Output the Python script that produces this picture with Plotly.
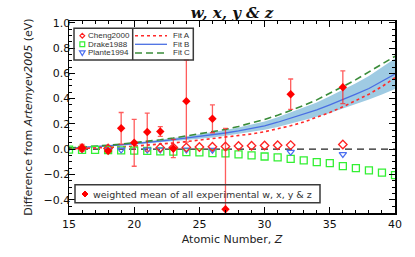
import plotly.graph_objects as go

# ---------------- data ----------------
fit_z = list(range(15, 41))
fit_a = [0.002, 0.005, 0.009, 0.013, 0.018, 0.024, 0.031, 0.039, 0.049, 0.060,
         0.072, 0.083, 0.094, 0.106, 0.120, 0.138, 0.160, 0.185, 0.215, 0.250,
         0.290, 0.335, 0.382, 0.435, 0.495, 0.565]
fit_b = [0.008, 0.013, 0.019, 0.026, 0.034, 0.042, 0.052, 0.063, 0.075, 0.087,
         0.100, 0.112, 0.128, 0.145, 0.163, 0.185, 0.213, 0.245, 0.278, 0.310,
         0.350, 0.390, 0.435, 0.480, 0.535, 0.595]
fit_c = [0.010, 0.016, 0.023, 0.031, 0.040, 0.050, 0.061, 0.074, 0.088, 0.104,
         0.120, 0.137, 0.156, 0.180, 0.207, 0.235, 0.268, 0.305, 0.345, 0.390,
         0.440, 0.495, 0.550, 0.610, 0.672, 0.735]
band_hi = [0.011, 0.017, 0.024, 0.032, 0.041, 0.051, 0.062, 0.075, 0.089, 0.103,
           0.118, 0.133, 0.151, 0.171, 0.193, 0.219, 0.252, 0.290, 0.328, 0.370,
           0.418, 0.468, 0.522, 0.578, 0.645, 0.718]
band_lo = [0.005, 0.009, 0.014, 0.020, 0.027, 0.034, 0.043, 0.052, 0.062, 0.072,
           0.083, 0.093, 0.106, 0.120, 0.135, 0.153, 0.176, 0.202, 0.229, 0.256,
           0.287, 0.320, 0.356, 0.392, 0.432, 0.477]

drake_z = list(range(15, 41))
drake_v = [-0.003, -0.005, -0.006, -0.008, -0.010, -0.011, -0.014, -0.018, -0.020, -0.023,
           -0.026, -0.031, -0.034, -0.041, -0.049, -0.058, -0.065, -0.077, -0.088, -0.103,
           -0.111, -0.134, -0.150, -0.168, -0.186, -0.206]

cheng_z = [16, 18, 22, 23, 24, 25, 26, 27, 28, 29, 30, 31, 32, 36]
cheng_v = [0.008, 0.006, 0.012, 0.013, 0.014, 0.017, 0.019, 0.021, 0.025, 0.027,
           0.029, 0.031, 0.032, 0.037]

plante_z = [16, 18, 19, 21, 22, 24, 26, 32, 36]
plante_v = [0.000, -0.005, -0.005, -0.005, -0.004, -0.005, -0.006, -0.022, -0.040]

wm_z = [16, 18, 19, 20, 21, 22, 23, 24, 26, 27, 32, 36]
wm_v = [0.010, -0.015, 0.165, 0.050, 0.135, 0.140, 0.005, 0.380, 0.240, -0.475, 0.435, 0.490]
wm_err = [0.028, 0.012, 0.125, 0.185, 0.150, 0.038, 0.072, 0.325, 0.110, 0.640, 0.120, 0.130]

x_range = [15, 40]
y_range = [-0.505, 1.014]

# ---------------- figure ----------------
W, H = 415, 257
ML, MR, MT, MB = 69, 20, 21, 44
PW, PH = W - ML - MR, H - MT - MB

def px(x):
    """screen x (px) -> paper fraction"""
    return (x - ML) / PW

def py(y):
    """screen y (px) -> paper fraction"""
    return (H - MB - y) / PH

FONT = "DejaVu Sans"
LEGFONT = "Liberation Sans"
RED = "#ff0000"
fig = go.Figure()

# uncertainty band of Fit B
fig.add_trace(go.Scatter(x=fit_z, y=band_lo, mode="lines", line=dict(width=0),
                         hoverinfo="skip", showlegend=False))
fig.add_trace(go.Scatter(x=fit_z, y=band_hi, mode="lines", line=dict(width=0),
                         fill="tonexty", fillcolor="#9fcbe3", hoverinfo="skip",
                         showlegend=False))
fig.add_trace(go.Scatter(x=fit_z, y=fit_b, mode="lines", name="Fit B",
                         line=dict(color="#4a6fe3", width=1.3)))
fig.add_trace(go.Scatter(x=fit_z, y=fit_a, mode="lines", name="Fit A",
                         line=dict(color="#ff2a2a", width=1.6, dash="dot")))
fig.add_trace(go.Scatter(x=fit_z, y=fit_c, mode="lines", name="Fit C",
                         line=dict(color="#3a8c3a", width=1.6, dash="7px,4px")))

fig.add_trace(go.Scatter(x=drake_z, y=drake_v, mode="markers", name="Drake1988",
                         marker=dict(symbol="square-open", size=7, color="#33f033",
                                     line=dict(width=1.3))))
fig.add_trace(go.Scatter(x=plante_z, y=plante_v, mode="markers", name="Plante1994",
                         marker=dict(symbol="triangle-down-open", size=6.5, color="#4a6ef0",
                                     line=dict(width=1.2))))
fig.add_trace(go.Scatter(x=cheng_z, y=cheng_v, mode="markers", name="Cheng2000",
                         marker=dict(symbol="diamond-open", size=6.5, color="#ff2020",
                                     line=dict(width=1.3))))
fig.add_trace(go.Scatter(x=wm_z, y=wm_v, mode="markers", name="weighted mean",
                         marker=dict(symbol="diamond", size=6.5, color=RED),
                         error_y=dict(type="data", array=wm_err, symmetric=True,
                                      color="rgba(255,30,30,0.72)", thickness=1.3,
                                      width=2.5)))

shapes = []
# zero reference line
shapes.append(dict(type="line", xref="paper", yref="y", x0=0, x1=1, y0=0, y1=0,
                   line=dict(color="#222222", width=1.3, dash="7px,5px"), layer="below"))

# legend 1 box
BOX = dict(color="#3a3a3a", width=1.5)
shapes.append(dict(type="rect", xref="paper", yref="paper",
                   x0=px(74), x1=px(193.3), y0=py(60), y1=py(28.3), line=BOX))
shapes.append(dict(type="line", xref="paper", yref="paper",
                   x0=px(132.7), x1=px(132.7), y0=py(60), y1=py(28.3), line=BOX))
# legend 2 box
shapes.append(dict(type="rect", xref="paper", yref="paper",
                   x0=px(75), x1=px(320), y0=py(202.7), y1=py(184.7), line=BOX))

rows = [35.7, 44.3, 53.0]
mx = 82.3
s = 2.4
# Cheng diamond
cy = rows[0]
shapes.append(dict(type="path", xref="paper", yref="paper",
                   path=f"M {px(mx)},{py(cy - s)} L {px(mx + s)},{py(cy)} L {px(mx)},{py(cy + s)} L {px(mx - s)},{py(cy)} Z",
                   line=dict(color="#ff2020", width=1.2)))
# Drake square
cy = rows[1]
shapes.append(dict(type="rect", xref="paper", yref="paper",
                   x0=px(mx - 2.4), x1=px(mx + 2.4), y0=py(cy + 2.4), y1=py(cy - 2.4),
                   line=dict(color="#33f033", width=1.2)))
# Plante triangle
cy = rows[2]
shapes.append(dict(type="path", xref="paper", yref="paper",
                   path=f"M {px(mx - 2.8)},{py(cy - 2.2)} L {px(mx + 2.8)},{py(cy - 2.2)} L {px(mx)},{py(cy + 2.5)} Z",
                   line=dict(color="#4a6ef0", width=1.2)))
# weighted mean diamond (filled)
cy = 194.0
mx2 = 85
s2 = 3.0
shapes.append(dict(type="path", xref="paper", yref="paper",
                   path=f"M {px(mx2)},{py(cy - s2)} L {px(mx2 + s2)},{py(cy)} L {px(mx2)},{py(cy + s2)} L {px(mx2 - s2)},{py(cy)} Z",
                   line=dict(color=RED, width=1), fillcolor=RED))

# fit line samples
samples = [("#ff2a2a", "dot", 1.6), ("#4a6fe3", "solid", 1.3), ("#3a8c3a", "7px,4px", 1.6)]
for (col, dash, w), cy in zip(samples, rows):
    shapes.append(dict(type="line", xref="paper", yref="paper",
                       x0=px(135), x1=px(167), y0=py(cy), y1=py(cy),
                       line=dict(color=col, width=w, dash=dash)))

annotations = []
LFONT = dict(family=LEGFONT, size=8, color="#333333")
for txt, cy in zip(["Cheng2000", "Drake1988", "Plante1994"], rows):
    annotations.append(dict(text=txt, xref="paper", yref="paper", x=px(86), y=py(cy),
                            xanchor="left", yanchor="middle", showarrow=False, font=LFONT))
for txt, cy in zip(["Fit A", "Fit B", "Fit C"], rows):
    annotations.append(dict(text=txt, xref="paper", yref="paper", x=px(171), y=py(cy),
                            xanchor="left", yanchor="middle", showarrow=False, font=LFONT))
annotations.append(dict(text="weighted mean of all experimental w, x, y &amp; z",
                        xref="paper", yref="paper", x=px(90.5), y=py(194),
                        xanchor="left", yanchor="middle", showarrow=False,
                        font=dict(family=FONT, size=9.5, color="#333333")))

axis_common = dict(showline=True, linecolor="black", linewidth=1.5, mirror="allticks",
                   ticks="inside", ticklen=6, tickwidth=1, tickcolor="black",
                   showgrid=False, zeroline=False, automargin=False,
                   tickfont=dict(family=FONT, size=11, color="#111111"))

fig.update_layout(
    width=W, height=H,
    margin=dict(l=ML, r=MR, t=MT, b=MB, autoexpand=False),
    paper_bgcolor="white", plot_bgcolor="white",
    showlegend=False,
    title=dict(text="<b><i>w, x, y &amp; z</i></b>", x=px(232), xref="paper",
               y=1 - 12.5 / H, yref="container", xanchor="center", yanchor="middle",
               font=dict(family="DejaVu Serif", size=15, color="#111111")),
    xaxis=dict(range=x_range, tick0=15, dtick=5,
               minor=dict(dtick=1, ticks="inside", ticklen=3, tickcolor="black", showgrid=False),
               title=dict(text="Atomic Number, <i>Z</i>", standoff=5,
                          font=dict(family=FONT, size=11, color="#222222")),
               **axis_common),
    yaxis=dict(range=y_range, tick0=0, dtick=0.2, tickformat=".1f", ticklabelstandoff=-5,
               minor=dict(dtick=0.05, ticks="inside", ticklen=3, tickcolor="black", showgrid=False),
               title=dict(text="Difference from <i>Artemyev2005</i> (eV)", standoff=8,
                          font=dict(family=FONT, size=11, color="#222222")),
               **axis_common),
    shapes=shapes,
    annotations=annotations,
)

# remove the browser's default 8 px page margin so the figure sits at (0, 0)
fig.write_html("out.html",
               config={"displayModeBar": False, "staticPlot": True},
               post_script="document.body.style.margin='0';document.body.style.overflow='hidden';")
